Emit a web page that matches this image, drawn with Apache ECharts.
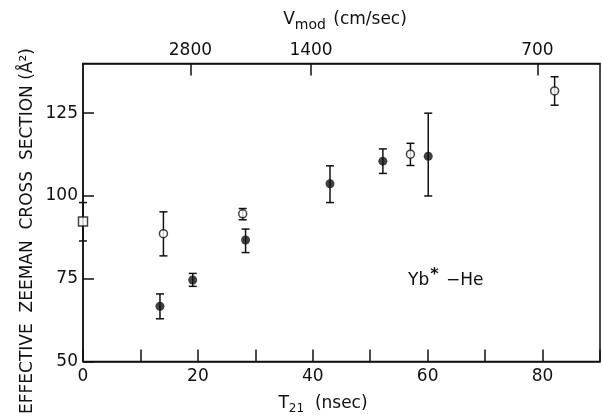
<!DOCTYPE html>
<html>
<head>
<meta charset="utf-8">
<script src="https://cdn.jsdelivr.net/npm/echarts@6/dist/echarts.min.js"></script>
<style>
  html, body { margin: 0; padding: 0; background: #fff; }
  #chart { width: 602px; height: 419px; }
</style>
</head>
<body>
<div id="chart"></div>
<script>
// data: [T21 (nsec), cross section]
const filledPoints = [[13.4, 66.7], [19.1, 74.6], [28.3, 86.7], [43.0, 103.7], [52.2, 110.5], [60.1, 112.0]]
const filledErr = [[62.9, 70.4], [72.7, 76.6], [82.9, 90.0], [98.0, 109.1], [106.8, 114.2], [100.0, 125.0]]
const openPoints = [[14.0, 88.6], [27.8, 94.6], [57.0, 112.6], [82.1, 131.7]]
const openErr = [[81.9, 95.2], [92.8, 96.2], [109.2, 115.9], [127.4, 136.0]]
const squarePoints = [[0, 92.3]]
const squareErr = [[86.4, 98.0]]

// axis ticks
const xLabels = [0, 20, 40, 60, 80]
const yTicks = [50, 75, 100, 125]
const vmodPos = [18.7, 39.7, 79.1]
const vmodLabels = ['2800', '1400', '700']

const FONT = 'DejaVu Sans'
const INK = '#111'

// build [x, lo, hi] rows for the error bars
function errRows(points, errs) {
  return points.map((p, i) => [p[0], errs[i][0], errs[i][1]])
}
const errData = [].concat(
  errRows(filledPoints, filledErr),
  errRows(openPoints, openErr),
  errRows(squarePoints, squareErr)
)

function renderErr(params, api) {
  const x = api.value(0)
  const lo = api.coord([x, api.value(1)])
  const hi = api.coord([x, api.value(2)])
  const w = 4
  const st = { stroke: INK, lineWidth: 1.5 }
  return {
    type: 'group',
    children: [
      { type: 'line', shape: { x1: lo[0], y1: lo[1], x2: hi[0], y2: hi[1] }, style: st },
      { type: 'line', shape: { x1: lo[0] - w, y1: lo[1], x2: lo[0] + w, y2: lo[1] }, style: st },
      { type: 'line', shape: { x1: hi[0] - w, y1: hi[1], x2: hi[0] + w, y2: hi[1] }, style: st }
    ]
  }
}

const labelStyle = { color: INK, fontFamily: FONT, fontSize: 17 }
const lineStyle = { color: INK, width: 1.5 }

let myChart = echarts.init(document.getElementById('chart'))

myChart.setOption({
  animation: false,
  grid: {
    left: 83, right: 2, top: 63.5, bottom: 57.5,
    show: true, borderColor: INK, borderWidth: 1.5
  },
  xAxis: [
    {
      type: 'value', position: 'bottom', min: 0, max: 90, interval: 10,
      axisLine: { lineStyle },
      axisTick: { inside: true, length: 12, lineStyle },
      axisLabel: Object.assign({ margin: 7, customValues: xLabels }, labelStyle),
      splitLine: { show: false }
    },
    {
      type: 'value', position: 'top', min: 0, max: 90,
      axisLine: { lineStyle },
      axisTick: { inside: true, length: 12, lineStyle, customValues: vmodPos },
      axisLabel: Object.assign({
        margin: 4,
        customValues: vmodPos,
        formatter: v => {
          let best = 0
          vmodPos.forEach((p, i) => { if (Math.abs(p - v) < Math.abs(vmodPos[best] - v)) best = i })
          return vmodLabels[best]
        }
      }, labelStyle),
      splitLine: { show: false }
    }
  ],
  yAxis: {
    type: 'value', min: 50, max: 140, interval: 25,
    axisLine: { lineStyle },
    axisTick: { inside: true, length: 11, lineStyle, customValues: yTicks },
    axisLabel: Object.assign({ margin: 5, customValues: yTicks }, labelStyle),
    splitLine: { show: false }
  },
  graphic: [
    {
      type: 'text', x: 28, y: 231, rotation: Math.PI / 2, silent: true,
      style: {
        text: 'EFFECTIVE  ZEEMAN  CROSS  SECTION (Å²)',
        fill: INK, font: '17px "DejaVu Sans"', align: 'center', verticalAlign: 'middle'
      }
    },
    {
      type: 'text', x: 323, y: 404, silent: true,
      style: {
        text: 'T{sub|21}  (nsec)',
        fill: INK, font: '17px "DejaVu Sans"', align: 'center', verticalAlign: 'middle',
        rich: { sub: { fontSize: 12, fontFamily: FONT, padding: [10, 0, 0, 0], fill: INK } }
      }
    },
    {
      type: 'text', x: 345, y: 20, silent: true,
      style: {
        text: 'V{sub|mod} (cm/sec)',
        fill: INK, font: '17px "DejaVu Sans"', align: 'center', verticalAlign: 'middle',
        rich: { sub: { fontSize: 14, fontFamily: FONT, padding: [10, 2, 0, 0], fill: INK } }
      }
    },
    {
      type: 'text', x: 408, y: 281, silent: true,
      style: {
        text: 'Yb{sup|*} −He',
        fill: INK, font: '17px "DejaVu Sans"', align: 'left', verticalAlign: 'middle',
        rich: { sup: { fontSize: 16, fontFamily: FONT, padding: [0, 2, 12, 1], fill: INK, fontWeight: 'bold' } }
      }
    }
  ],
  series: [
    {
      type: 'custom', silent: true, clip: false, z: 2,
      renderItem: renderErr, data: errData,
      encode: { x: 0, y: [1, 2] }
    },
    {
      type: 'scatter', silent: true, clip: false, z: 3,
      symbol: 'circle', symbolSize: 9, data: filledPoints,
      itemStyle: { color: INK }
    },
    {
      type: 'scatter', silent: true, clip: false, z: 3,
      symbol: 'circle', symbolSize: 8, data: openPoints,
      itemStyle: { color: '#fff', borderColor: INK, borderWidth: 1.5 }
    },
    {
      type: 'scatter', silent: true, clip: false, z: 3,
      symbol: 'rect', symbolSize: 9, data: squarePoints,
      itemStyle: { color: '#fff', borderColor: INK, borderWidth: 1.5 }
    }
  ]
})

window.onresize = function () {
  myChart.resize()
}
</script>
</body>
</html>
